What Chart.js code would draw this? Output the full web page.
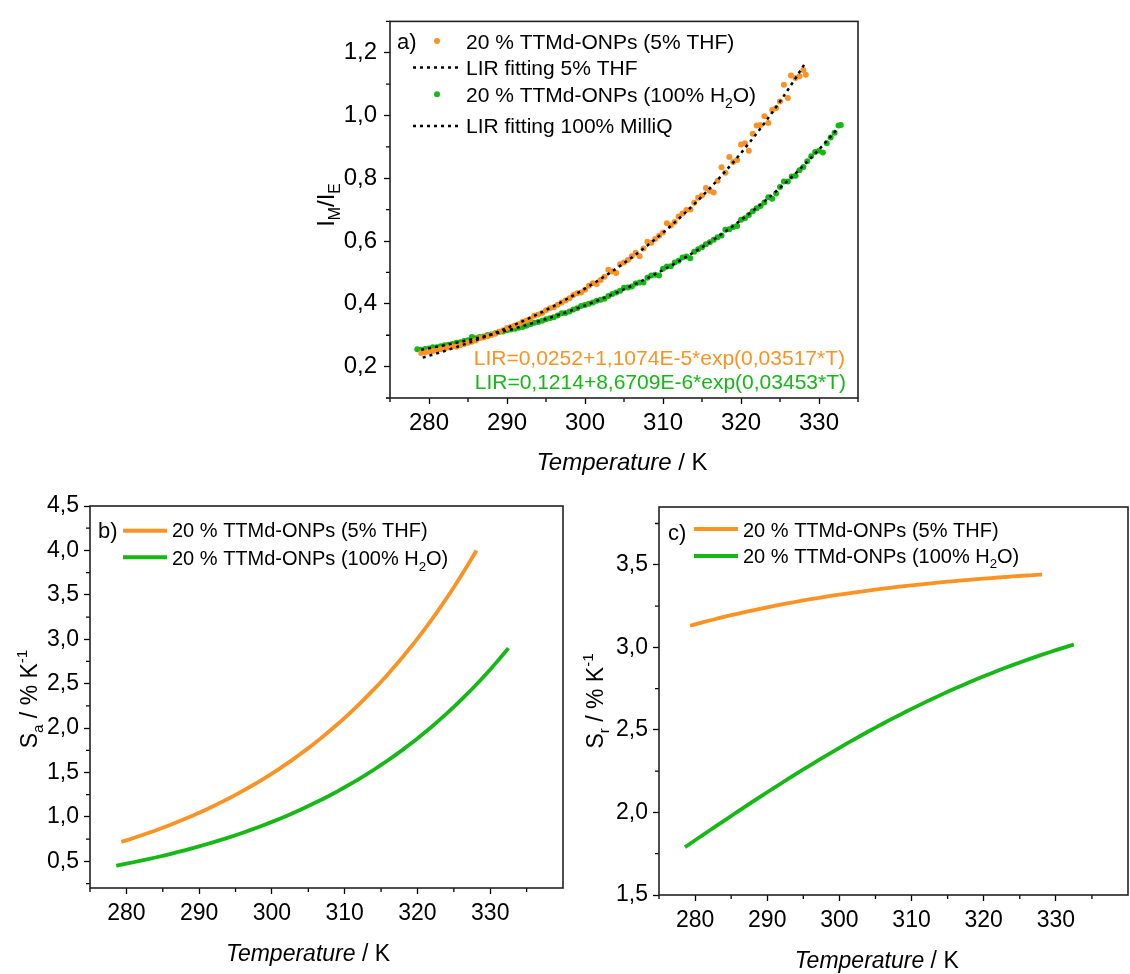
<!DOCTYPE html>
<html><head><meta charset="utf-8">
<script src="https://cdn.jsdelivr.net/npm/chart.js@4.4.1/dist/chart.umd.min.js"></script>
<style>
html,body{margin:0;padding:0;background:#fff;width:1130px;height:974px;overflow:hidden}
canvas{position:absolute}
</style></head><body>
<canvas id="ca" width="565" height="490" style="left:300px;top:0px;width:565px;height:490px"></canvas>
<canvas id="cb" width="572" height="494" style="left:0px;top:480px;width:572px;height:494px"></canvas>
<canvas id="cc" width="558" height="494" style="left:572px;top:480px;width:558px;height:494px"></canvas>
<script>
// ---------- DATA ----------
const orangePts = [[279.0,0.243],[279.5,0.246],[280.0,0.248],[280.5,0.250],[281.0,0.252],[281.5,0.255],[282.0,0.257],[282.5,0.262],[283.0,0.264],[283.5,0.263],[284.0,0.268],[284.5,0.272],[285.0,0.276],[285.5,0.279],[286.0,0.283],[286.5,0.290],[287.0,0.293],[287.5,0.297],[288.0,0.301],[288.5,0.305],[289.0,0.311],[289.5,0.316],[290.0,0.323],[290.5,0.326],[291.0,0.331],[291.5,0.335],[292.0,0.343],[292.5,0.347],[293.0,0.352],[293.5,0.362],[294.0,0.366],[294.5,0.371],[295.0,0.380],[295.5,0.386],[296.0,0.389],[296.5,0.397],[297.0,0.404],[297.5,0.411],[298.0,0.418],[298.5,0.428],[299.0,0.434],[299.5,0.436],[300.0,0.445],[300.5,0.458],[301.0,0.466],[301.5,0.463],[302.0,0.476],[302.5,0.486],[303.0,0.509],[303.5,0.503],[304.0,0.498],[304.5,0.526],[305.0,0.532],[305.5,0.540],[306.0,0.552],[306.5,0.563],[307.0,0.552],[307.5,0.576],[308.0,0.598],[308.5,0.595],[309.0,0.607],[309.5,0.617],[310.0,0.627],[310.5,0.657],[311.0,0.650],[311.5,0.661],[312.0,0.678],[312.5,0.688],[313.0,0.699],[313.5,0.701],[314.0,0.722],[314.5,0.738],[315.0,0.745],[315.5,0.769],[316.0,0.760],[316.5,0.755],[317.0,0.792],[317.5,0.835],[318.0,0.818],[318.5,0.868],[319.0,0.852],[319.5,0.858],[320.0,0.908],[320.5,0.912],[321.0,0.888],[321.5,0.942],[322.0,0.968],[322.5,0.970],[323.0,0.998],[323.5,0.976],[324.0,1.018],[324.5,1.024],[325.0,1.045],[325.5,1.098],[326.0,1.056],[326.4,1.128],[327.0,1.120],[327.5,1.125],[328.0,1.145],[328.3,1.130]];

const greenPts = [[278.5,0.255],[279.0,0.254],[279.5,0.256],[280.0,0.258],[280.5,0.262],[281.0,0.262],[281.5,0.265],[282.0,0.268],[282.5,0.270],[283.0,0.272],[283.5,0.276],[284.0,0.278],[284.5,0.282],[285.0,0.284],[285.5,0.294],[286.0,0.290],[286.5,0.294],[287.0,0.296],[287.5,0.301],[288.0,0.302],[288.5,0.306],[289.0,0.310],[289.5,0.312],[290.0,0.316],[290.5,0.318],[291.0,0.321],[291.5,0.324],[292.0,0.326],[292.5,0.330],[293.0,0.335],[293.5,0.340],[294.0,0.342],[294.5,0.346],[295.0,0.351],[295.5,0.354],[296.0,0.357],[296.5,0.363],[297.0,0.370],[297.5,0.371],[298.0,0.376],[298.5,0.382],[299.0,0.386],[299.5,0.393],[300.0,0.396],[300.5,0.400],[301.0,0.404],[301.5,0.410],[302.0,0.413],[302.5,0.416],[303.0,0.425],[303.5,0.431],[304.0,0.436],[304.5,0.442],[305.0,0.451],[305.5,0.452],[306.0,0.455],[306.5,0.465],[307.0,0.468],[307.5,0.468],[308.0,0.483],[308.5,0.490],[309.0,0.493],[309.5,0.490],[310.0,0.512],[310.5,0.519],[311.0,0.520],[311.5,0.532],[312.0,0.537],[312.5,0.548],[313.0,0.551],[313.5,0.545],[314.0,0.566],[314.5,0.574],[315.0,0.580],[315.5,0.590],[316.0,0.596],[316.5,0.604],[317.0,0.612],[317.5,0.618],[318.0,0.636],[318.5,0.638],[319.0,0.645],[319.5,0.648],[320.0,0.668],[320.5,0.673],[321.0,0.683],[321.5,0.695],[322.0,0.705],[322.5,0.712],[323.0,0.723],[323.5,0.740],[324.0,0.735],[324.5,0.752],[325.0,0.772],[325.5,0.790],[326.0,0.790],[326.5,0.806],[327.0,0.808],[327.5,0.826],[328.0,0.836],[328.5,0.854],[329.0,0.870],[329.5,0.884],[330.0,0.888],[330.5,0.882],[331.0,0.912],[331.5,0.930],[332.0,0.945],[332.5,0.968],[332.8,0.970]];

const fitTempOrange = [279.2,280,281,282,283,284,285,286,287,288,289,290,291,292,293,294,295,296,297,298,299,300,301,302,303,304,305,306,307,308,309,310,311,312,313,314,315,316,317,318,319,320,321,322,323,324,325,326,327,328,328.2];
const fitOrange = [0.2288,0.2347,0.2421,0.2499,0.2580,0.2663,0.2749,0.2839,0.2931,0.3027,0.3126,0.3229,0.3336,0.3446,0.3561,0.3679,0.3802,0.3929,0.4060,0.4197,0.4338,0.4484,0.4636,0.4793,0.4955,0.5123,0.5298,0.5478,0.5666,0.5859,0.6060,0.6268,0.6483,0.6706,0.6937,0.7177,0.7425,0.7681,0.7947,0.8223,0.8508,0.8804,0.9110,0.9427,0.9755,1.0096,1.0448,1.0813,1.1191,1.1583,1.1663];

const fitTempGreen = [279,280,281,282,283,284,285,286,287,288,289,290,291,292,293,294,295,296,297,298,299,300,301,302,303,304,305,306,307,308,309,310,311,312,313,314,315,316,317,318,319,320,321,322,323,324,325,326,327,328,329,330,331,332,332.5];
const fitGreen = [0.2538,0.2585,0.2633,0.2683,0.2735,0.2788,0.2843,0.2900,0.2960,0.3021,0.3085,0.3150,0.3218,0.3289,0.3362,0.3437,0.3515,0.3596,0.3680,0.3766,0.3856,0.3949,0.4045,0.4144,0.4247,0.4354,0.4464,0.4578,0.4696,0.4819,0.4945,0.5076,0.5212,0.5352,0.5498,0.5648,0.5804,0.5965,0.6132,0.6305,0.6484,0.6669,0.6861,0.7059,0.7264,0.7477,0.7697,0.7925,0.8160,0.8404,0.8657,0.8919,0.9189,0.9469,0.9613];

const sensTempOrange = [279.3,280,281,282,283,284,285,286,287,288,289,290,291,292,293,294,295,296,297,298,299,300,301,302,303,304,305,306,307,308,309,310,311,312,313,314,315,316,317,318,319,320,321,322,323,324,325,326,327,328,328.1];
const saOrange = [0.7187,0.7366,0.7630,0.7903,0.8186,0.8479,0.8782,0.9097,0.9422,0.9760,1.0109,1.0471,1.0846,1.1234,1.1636,1.2052,1.2484,1.2931,1.3394,1.3873,1.4370,1.4884,1.5417,1.5969,1.6540,1.7133,1.7746,1.8381,1.9039,1.9721,2.0427,2.1158,2.1915,2.2700,2.3513,2.4354,2.5226,2.6129,2.7064,2.8033,2.9037,3.0076,3.1153,3.2268,3.3423,3.4620,3.5859,3.7143,3.8473,3.9850,3.9990];
const srOrange = [3.1310,3.1393,3.1510,3.1624,3.1734,3.1842,3.1946,3.2047,3.2146,3.2242,3.2335,3.2425,3.2513,3.2598,3.2681,3.2761,3.2839,3.2914,3.2987,3.3058,3.3127,3.3194,3.3258,3.3320,3.3381,3.3440,3.3497,3.3552,3.3605,3.3657,3.3707,3.3756,3.3803,3.3848,3.3892,3.3935,3.3976,3.4016,3.4055,3.4092,3.4128,3.4163,3.4197,3.4230,3.4261,3.4292,3.4322,3.4350,3.4378,3.4405,3.4407];

const sensTempGreen = [278.6,279,280,281,282,283,284,285,286,287,288,289,290,291,292,293,294,295,296,297,298,299,300,301,302,303,304,305,306,307,308,309,310,311,312,313,314,315,316,317,318,319,320,321,322,323,324,325,326,327,328,329,330,331,332,332.5];
const saGreen = [0.4510,0.4573,0.4734,0.4900,0.5072,0.5250,0.5435,0.5626,0.5823,0.6028,0.6240,0.6459,0.6686,0.6921,0.7164,0.7415,0.7676,0.7945,0.8224,0.8513,0.8812,0.9122,0.9443,0.9774,1.0118,1.0473,1.0841,1.1222,1.1616,1.2024,1.2447,1.2884,1.3337,1.3805,1.4290,1.4792,1.5312,1.5850,1.6406,1.6983,1.7579,1.8197,1.8836,1.9498,2.0183,2.0892,2.1626,2.2386,2.3172,2.3986,2.4828,2.5701,2.6604,2.7538,2.8505,2.9002];
const srGreen = [1.7896,1.8015,1.8313,1.8609,1.8905,1.9200,1.9494,1.9786,2.0077,2.0367,2.0654,2.0940,2.1223,2.1504,2.1783,2.2059,2.2333,2.2604,2.2872,2.3137,2.3400,2.3658,2.3914,2.4166,2.4414,2.4659,2.4901,2.5139,2.5373,2.5603,2.5829,2.6051,2.6272,2.6487,2.6697,2.6903,2.7107,2.7307,2.7503,2.7694,2.7882,2.8066,2.8244,2.8420,2.8592,2.8759,2.8923,2.9084,2.9240,2.9393,2.9542,2.9687,2.9830,2.9968,3.0103,3.0169];

const xTicks = [280,290,300,310,320,330];
const xTickLabels = ['280','290','300','310','320','330'];
const xMinor = [275,285,295,305,315,325,335];
const yTicksA = [0.2,0.4,0.6,0.8,1.0,1.2];
const yTickLabelsA = ['0,2','0,4','0,6','0,8','1,0','1,2'];
const yMinorA = [0.1,0.3,0.5,0.7,0.9,1.1,1.3];
const yTicksB = [0.5,1.0,1.5,2.0,2.5,3.0,3.5,4.0,4.5];
const yTickLabelsB = ['0,5','1,0','1,5','2,0','2,5','3,0','3,5','4,0','4,5'];
const yMinorB = [0.25,0.75,1.25,1.75,2.25,2.75,3.25,3.75,4.25];
const yTicksC = [1.5,2.0,2.5,3.0,3.5];
const yTickLabelsC = ['1,5','2,0','2,5','3,0','3,5'];
const yMinorC = [1.75,2.25,2.75,3.25,3.75];

const seriesTHF = '20 % TTMd-ONPs (5% THF)';
const seriesH2O = [{t:'20 % TTMd-ONPs (100% H'},{t:'2',s:'sub'},{t:'O)'}];
const eqOrange = 'LIR=0,0252+1,1074E-5*exp(0,03517*T)';
const eqGreen = 'LIR=0,1214+8,6709E-6*exp(0,03453*T)';

// ---------- STYLE ----------
const FONT = "'Liberation Sans', Arial, Helvetica, sans-serif";
const ORANGE = '#FB9324';
const GREEN = '#16B816';
Chart.defaults.font.family = FONT;

function drawRich(ctx, segs, x, yb, size, align, color) {
  if (typeof segs === 'string') segs = [{t: segs}];
  const parts = segs.map(s => {
    const sz = s.s ? size * 0.66 : size;
    const font = (s.i ? 'italic ' : '') + sz + 'px ' + FONT;
    ctx.font = font;
    return {t: s.t, font, w: ctx.measureText(s.t).width,
      dy: s.s === 'sub' ? size * 0.27 : (s.s === 'sup' ? -size * 0.42 : 0)};
  });
  const total = parts.reduce((a, p) => a + p.w, 0);
  let cx = align === 'center' ? x - total / 2 : (align === 'right' ? x - total : x);
  ctx.fillStyle = color || '#000';
  ctx.textBaseline = 'alphabetic';
  ctx.textAlign = 'left';
  parts.forEach(p => { ctx.font = p.font; ctx.fillText(p.t, cx, yb + p.dy); cx += p.w; });
}

const deco = {
  id: 'deco',
  afterDraw(chart, args, o) {
    const ctx = chart.ctx, a = chart.chartArea;
    const ox = o.ox, oy = o.oy;
    const xs = chart.scales.x, ys = chart.scales.y;
    ctx.save();
    ctx.strokeStyle = '#000';
    ctx.lineWidth = 1.3;
    ctx.beginPath();
    o.minorX.forEach(v => { const p = xs.getPixelForValue(v); ctx.moveTo(p, a.bottom); ctx.lineTo(p, a.bottom + 4); });
    o.minorY.forEach(v => { const p = ys.getPixelForValue(v); ctx.moveTo(a.left, p); ctx.lineTo(a.left - 4, p); });
    ctx.stroke();
    ctx.lineWidth = 1.6;
    ctx.strokeStyle = '#222';
    ctx.strokeRect(a.left, a.top, a.right - a.left, a.bottom - a.top);
    (o.marks || []).forEach(m => {
      if (m.type === 'dot') {
        ctx.fillStyle = m.color; ctx.beginPath(); ctx.arc(m.x - ox, m.y - oy, m.r, 0, Math.PI * 2); ctx.fill();
      } else {
        ctx.strokeStyle = m.color; ctx.lineWidth = m.w; ctx.setLineDash(m.dash || []);
        ctx.beginPath(); ctx.moveTo(m.x1 - ox, m.y - oy); ctx.lineTo(m.x2 - ox, m.y - oy); ctx.stroke();
        ctx.setLineDash([]);
      }
    });
    (o.texts || []).forEach(t => {
      if (t.rot) {
        ctx.save();
        ctx.translate(t.x - ox, t.y - oy);
        ctx.rotate(-Math.PI / 2);
        drawRich(ctx, t.segs, 0, 0, t.size, 'center', t.color);
        ctx.restore();
      } else {
        drawRich(ctx, t.segs, t.x - ox, t.y - oy + 0.358 * t.size, t.size, t.align || 'left', t.color);
      }
    });
    ctx.restore();
  }
};

function axis(min, max, ticks, labels, size, pad, fit, isX) {
  return {
    type: 'linear', min, max,
    afterBuildTicks: s => { s.ticks = ticks.map(v => ({value: v})); },
    afterFit: s => { if (isX) s.height = fit; else s.width = fit; },
    ticks: {autoSkip: false, maxRotation: 0, minRotation: 0, padding: pad, color: '#000',
      font: {family: FONT, size: size}, callback: (v, i) => labels[i]},
    grid: {display: true, drawOnChartArea: false, drawTicks: true, tickLength: 6, tickWidth: 1.3, tickColor: '#000'},
    border: {display: false}
  };
}

function pts(xs, ys) { return xs.map((x, i) => ({x: x, y: ys[i]})); }

// ---------- PANEL A ----------
new Chart(document.getElementById('ca'), {
  type: 'scatter',
  data: {datasets: [
    {label: 'LIR fitting 5% THF', data: pts(fitTempOrange, fitOrange), showLine: true, borderColor: '#000', borderWidth: 2.5, borderDash: [3, 4], pointRadius: 0, order: 0},
    {label: 'LIR fitting 100% MilliQ', data: pts(fitTempGreen, fitGreen), showLine: true, borderColor: '#000', borderWidth: 2.5, borderDash: [3, 4], pointRadius: 0, order: 0},
    {label: seriesTHF, data: orangePts.map(p => ({x: p[0], y: p[1]})), pointRadius: 3, pointBackgroundColor: ORANGE, pointBorderWidth: 0, order: 1},
    {label: '20 % TTMd-ONPs (100% H2O)', data: greenPts.map(p => ({x: p[0], y: p[1]})), pointRadius: 3, pointBackgroundColor: GREEN, pointBorderWidth: 0, order: 1}
  ]},
  options: {
    responsive: false, animation: false, devicePixelRatio: 1,
    layout: {padding: {left: 0, top: 14, right: 7, bottom: 0}},
    plugins: {legend: {display: false}, tooltip: {enabled: false},
      deco: {ox: 300, oy: 0, minorX: xMinor, minorY: yMinorA,
        marks: [
          {type: 'dot', x: 437, y: 41, r: 3, color: ORANGE},
          {type: 'line', x1: 413, x2: 460, y: 67.5, w: 2.5, dash: [3, 4], color: '#000'},
          {type: 'dot', x: 437, y: 94.3, r: 3, color: GREEN},
          {type: 'line', x1: 413, x2: 460, y: 126, w: 2.5, dash: [3, 4], color: '#000'}
        ],
        texts: [
          {segs: 'a)', x: 397, y: 41, size: 22},
          {segs: seriesTHF, x: 466, y: 41, size: 21},
          {segs: 'LIR fitting 5% THF', x: 466, y: 67, size: 21},
          {segs: seriesH2O, x: 466, y: 94.5, size: 21},
          {segs: 'LIR fitting 100% MilliQ', x: 466, y: 125.7, size: 21},
          {segs: eqOrange, x: 845, y: 357.5, size: 21, align: 'right', color: ORANGE},
          {segs: eqGreen, x: 846, y: 381.7, size: 21, align: 'right', color: GREEN},
          {segs: [{t: 'Temperature', i: 1}, {t: ' / K'}], x: 622, y: 461.5, size: 24, align: 'center'},
          {segs: [{t: 'I'}, {t: 'M', s: 'sub'}, {t: '/I'}, {t: 'E', s: 'sub'}], x: 334, y: 205, size: 24, rot: true}
        ]}},
    scales: {
      x: axis(275, 335, xTicks, xTickLabels, 24, 5, 92, true),
      y: axis(0.1, 1.3, yTicksA, yTickLabelsA, 24, 7, 90, false)
    }
  },
  plugins: [deco]
});

// ---------- PANEL B ----------
new Chart(document.getElementById('cb'), {
  type: 'scatter',
  data: {datasets: [
    {label: seriesTHF, data: pts(sensTempOrange, saOrange), showLine: true, borderColor: ORANGE, borderWidth: 3.8, pointRadius: 0, cubicInterpolationMode: 'monotone'},
    {label: '20 % TTMd-ONPs (100% H2O)', data: pts(sensTempGreen, saGreen), showLine: true, borderColor: GREEN, borderWidth: 3.8, pointRadius: 0, cubicInterpolationMode: 'monotone'}
  ]},
  options: {
    responsive: false, animation: false, devicePixelRatio: 1,
    layout: {padding: {left: 0, top: 26, right: 9, bottom: 0}},
    plugins: {legend: {display: false}, tooltip: {enabled: false},
      deco: {ox: 0, oy: 480, minorX: xMinor, minorY: yMinorB,
        marks: [
          {type: 'line', x1: 123, x2: 167, y: 530.7, w: 4, color: ORANGE},
          {type: 'line', x1: 123, x2: 167, y: 557.3, w: 4, color: GREEN}
        ],
        texts: [
          {segs: 'b)', x: 98, y: 530, size: 22},
          {segs: seriesTHF, x: 172, y: 530, size: 20},
          {segs: seriesH2O, x: 172, y: 558, size: 20},
          {segs: [{t: 'Temperature', i: 1}, {t: ' / K'}], x: 308, y: 952.5, size: 23, align: 'center'},
          {segs: [{t: 'S'}, {t: 'a', s: 'sub'}, {t: ' / % K'}, {t: '-1', s: 'sup'}], x: 37, y: 699, size: 23, rot: true}
        ]}},
    scales: {
      x: axis(275, 340, xTicks, xTickLabels, 23, 6, 86, true),
      y: axis(0.2, 4.5, yTicksB, yTickLabelsB, 23, 5, 90, false)
    }
  },
  plugins: [deco]
});

// ---------- PANEL C ----------
new Chart(document.getElementById('cc'), {
  type: 'scatter',
  data: {datasets: [
    {label: seriesTHF, data: pts(sensTempOrange, srOrange), showLine: true, borderColor: ORANGE, borderWidth: 3.8, pointRadius: 0, cubicInterpolationMode: 'monotone'},
    {label: '20 % TTMd-ONPs (100% H2O)', data: pts(sensTempGreen, srGreen), showLine: true, borderColor: GREEN, borderWidth: 3.8, pointRadius: 0, cubicInterpolationMode: 'monotone'}
  ]},
  options: {
    responsive: false, animation: false, devicePixelRatio: 1,
    layout: {padding: {left: 0, top: 27, right: 2, bottom: 0}},
    plugins: {legend: {display: false}, tooltip: {enabled: false},
      deco: {ox: 572, oy: 480, minorX: xMinor, minorY: yMinorC,
        marks: [
          {type: 'line', x1: 694, x2: 738, y: 529, w: 4, color: ORANGE},
          {type: 'line', x1: 694, x2: 738, y: 556, w: 4, color: GREEN}
        ],
        texts: [
          {segs: 'c)', x: 668, y: 531.7, size: 22},
          {segs: seriesTHF, x: 743, y: 529.5, size: 20},
          {segs: seriesH2O, x: 743, y: 555.8, size: 20},
          {segs: [{t: 'Temperature', i: 1}, {t: ' / K'}], x: 876.7, y: 959.5, size: 23, align: 'center'},
          {segs: [{t: 'S'}, {t: 'r', s: 'sub'}, {t: ' / % K'}, {t: '-1', s: 'sup'}], x: 603, y: 701, size: 23, rot: true}
        ]}},
    scales: {
      x: axis(275, 340, xTicks, xTickLabels, 23, 6, 79, true),
      y: axis(1.5, 3.85, yTicksC, yTickLabelsC, 23, 5, 87, false)
    }
  },
  plugins: [deco]
});
</script>
</body></html>
